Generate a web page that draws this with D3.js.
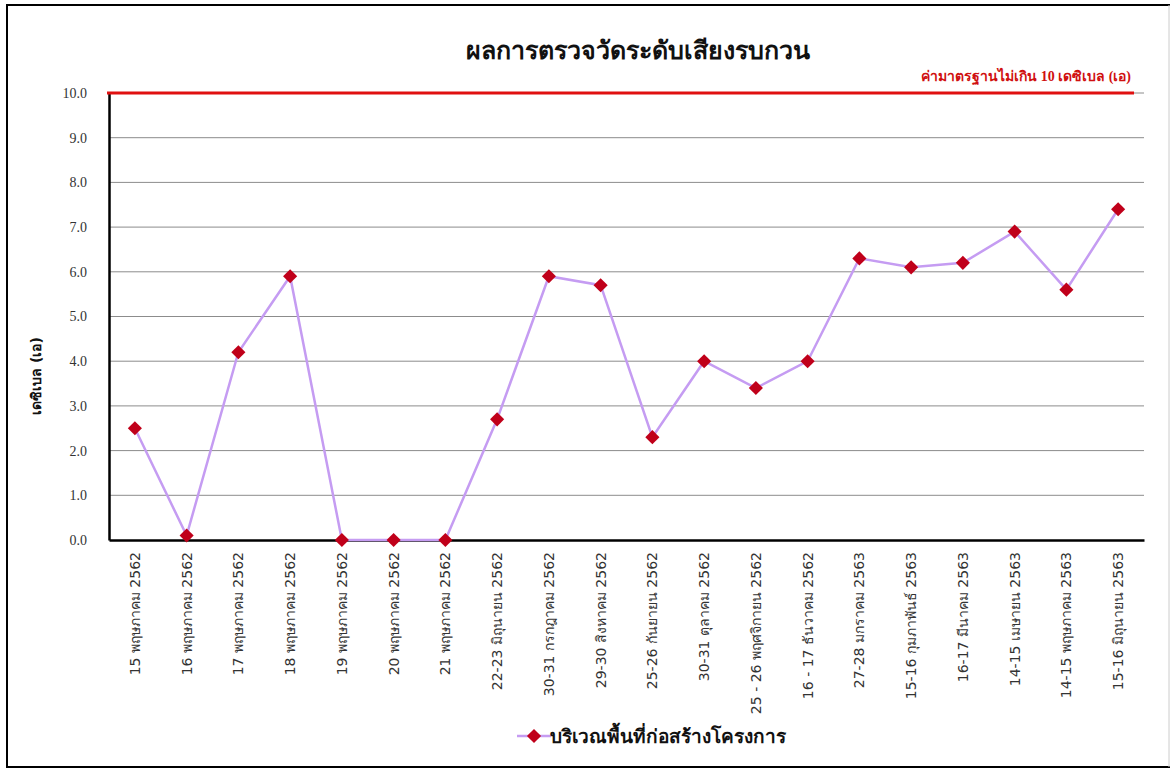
<!DOCTYPE html>
<html><head><meta charset="utf-8">
<script src="https://cdn.jsdelivr.net/npm/d3@7"></script>
<style>
html,body{margin:0;padding:0;background:#fff;}
svg{display:block;}
</style></head>
<body><svg id="chart" width="1175" height="769"></svg>
<script>
const categories = ["15 พฤษภาคม 2562","16 พฤษภาคม 2562","17 พฤษภาคม 2562","18 พฤษภาคม 2562","19 พฤษภาคม 2562","20 พฤษภาคม 2562","21 พฤษภาคม 2562","22-23 มิถุนายน 2562","30-31 กรกฎาคม 2562","29-30 สิงหาคม 2562","25-26 กันยายน 2562","30-31 ตุลาคม 2562","25 - 26 พฤศจิกายน 2562","16 - 17 ธันวาคม 2562","27-28 มกราคม 2563","15-16 กุมภาพันธ์ 2563","16-17 มีนาคม 2563","14-15 เมษายน 2563","14-15 พฤษภาคม 2563","15-16 มิถุนายน 2563"];
const values = [2.5,0.1,4.2,5.9,0,0,0,2.7,5.9,5.7,2.3,4.0,3.4,4.0,6.3,6.1,6.2,6.9,5.6,7.4];
const yTicks = [0,1,2,3,4,5,6,7,8,9,10];
const standardValue = 10;
const title = "ผลการตรวจวัดระดับเสียงรบกวน";
const standardLabel = "ค่ามาตรฐานไม่เกิน 10 เดซิเบล (เอ)";
const yTitle = "เดซิเบล (เอ)";
const seriesName = "บริเวณพื้นที่ก่อสร้างโครงการ";

const svg = d3.select("#chart");
const serif = "'Liberation Serif','DejaVu Serif',serif";
const sans = "Tahoma,'DejaVu Sans','Noto Sans',sans-serif";

// frame
svg.append("line").attr("x1",7).attr("x2",7).attr("y1",5).attr("y2",767).attr("stroke","#000").attr("stroke-width",2);
svg.append("line").attr("x1",6).attr("x2",1170).attr("y1",5).attr("y2",5).attr("stroke","#000").attr("stroke-width",2);
svg.append("line").attr("x1",6).attr("x2",1170).attr("y1",767).attr("y2",767).attr("stroke","#000").attr("stroke-width",2);
svg.append("line").attr("x1",1169).attr("x2",1169).attr("y1",5).attr("y2",767).attr("stroke","#ccc").attr("stroke-width",1);

const L=109, R=1144, T=93, B=540;
const x = d3.scaleBand().domain(categories).range([L,R]);
const y = d3.scaleLinear().domain([0,10]).range([B,T]);

// gridlines
svg.append("g").selectAll("line").data(yTicks.filter(d=>d>0)).join("line")
  .attr("x1",L).attr("x2",R).attr("y1",d=>y(d)).attr("y2",d=>y(d))
  .attr("stroke","#8c8c8c").attr("stroke-width",1);

// y axis
const yAxis = svg.append("g").attr("transform",`translate(${L},0)`)
  .call(d3.axisLeft(y).tickValues(yTicks).tickFormat(d3.format(".1f")).tickSize(0).tickPadding(22));
yAxis.select(".domain").attr("stroke","#000").attr("stroke-width",2.5);
yAxis.selectAll("text").attr("font-family",serif).attr("font-size",14).attr("font-weight","normal").attr("fill","#333");

// x axis
const xAxis = svg.append("g").attr("transform",`translate(0,${B})`)
  .call(d3.axisBottom(x).tickSize(0).tickPadding(0));
xAxis.select(".domain").attr("stroke","#000").attr("stroke-width",2.5);
xAxis.selectAll("text")
  .attr("font-family",sans).attr("font-size",14).attr("fill","#333")
  .attr("transform","rotate(-90)").attr("text-anchor","end")
  .attr("x",-12).attr("y",0).attr("dy","0.35em");

// standard line
svg.append("line").attr("x1",L-2).attr("x2",1134).attr("y1",y(standardValue)).attr("y2",y(standardValue))
  .attr("stroke","#e01010").attr("stroke-width",3);
svg.append("text").attr("x",1131).attr("y",81).attr("text-anchor","end")
  .attr("font-family",serif).attr("font-weight","bold").attr("font-size",14).attr("fill","#d01010")
  .text(standardLabel);

// title
svg.append("text").attr("x",638).attr("y",59).attr("text-anchor","middle")
  .attr("font-family",serif).attr("font-weight","bold").attr("font-size",25).attr("fill","#111")
  .text(title);

// y title
svg.append("text").attr("transform","translate(41,376) rotate(-90)").attr("text-anchor","middle")
  .attr("font-family",sans).attr("font-weight","bold").attr("font-size",14).attr("fill","#111")
  .text(yTitle);

// line
const cx = d => x(d) + x.bandwidth()/2;
const line = d3.line().x((d,i)=>cx(categories[i])).y(d=>y(d));
svg.append("path").datum(values).attr("d",line).attr("fill","none")
  .attr("stroke","#c59cf2").attr("stroke-width",2.5);

svg.append("g").selectAll("path").data(values).join("path")
  .attr("d", d3.symbol().type(d3.symbolSquare).size(100))
  .attr("transform",(d,i)=>`translate(${cx(categories[i])},${y(d)}) rotate(45)`)
  .attr("fill","#c0001a");

// legend
const lg = svg.append("g").attr("transform","translate(0,736)");
lg.append("line").attr("x1",517).attr("x2",551).attr("y1",0).attr("y2",0).attr("stroke","#c59cf2").attr("stroke-width",2.5);
lg.append("path").attr("d",d3.symbol().type(d3.symbolSquare).size(100)).attr("transform","translate(534,0) rotate(45)").attr("fill","#c0001a");
lg.append("text").attr("x",550).attr("y",0).attr("dy","0.35em")
  .attr("font-family",serif).attr("font-weight","bold").attr("font-size",19).attr("fill","#111")
  .text(seriesName);
</script></body></html>
